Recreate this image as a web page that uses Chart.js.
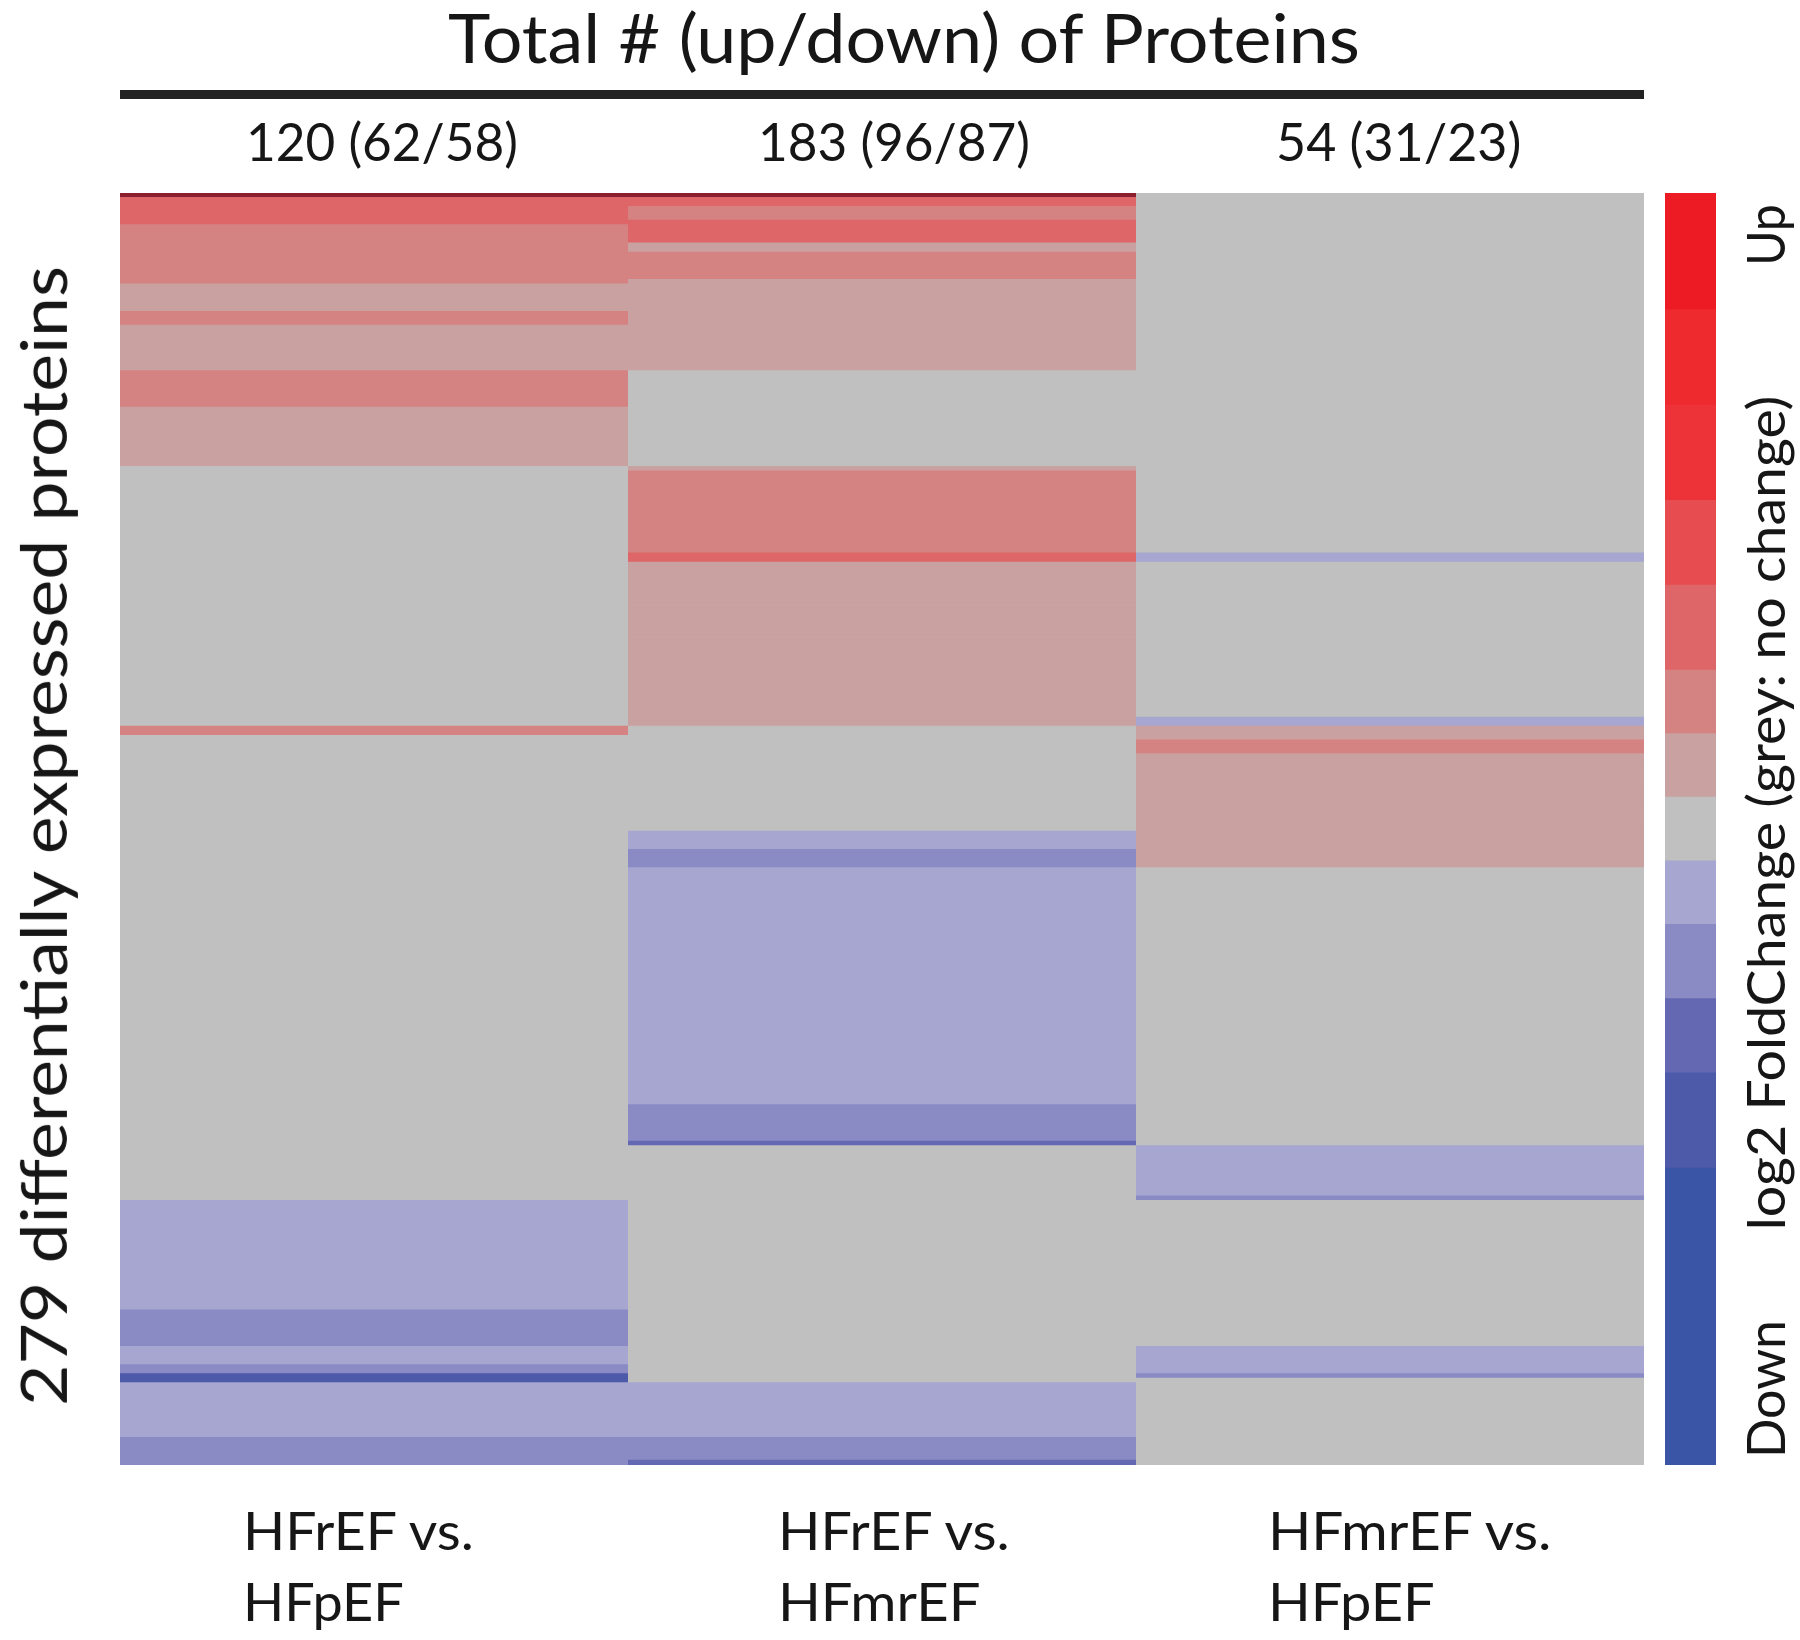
<!DOCTYPE html>
<html>
<head>
<meta charset="utf-8">
<title>Differentially expressed proteins heatmap</title>
<script src="https://cdn.jsdelivr.net/npm/chart.js@4.4.1/dist/chart.umd.min.js"></script>
<style>
  html, body { margin: 0; padding: 0; background: #ffffff; }
  #wrap { position: relative; width: 1800px; height: 1640px; overflow: hidden;
          font-family: Lato, "Open Sans", sans-serif; color: #161616; }
  canvas { position: absolute; display: block; }
  .t { position: absolute; white-space: nowrap; line-height: 1; }
  #rule { position: absolute; left: 120px; top: 90px; width: 1524px; height: 9px; background: #222222; }
</style>
</head>
<body>
<div id="wrap">
  <canvas id="heat" width="1800" height="1640" style="left:0;top:0;width:1800px;height:1640px;"></canvas>
  <canvas id="cbar" width="51" height="1272" style="left:1665px;top:193px;width:51px;height:1272px;"></canvas>
  <div id="rule"></div>
</div>
<script>
// ---------------- DATA ----------------
const comparisons = ["HFrEF vs.\nHFpEF", "HFrEF vs.\nHFmrEF", "HFmrEF vs.\nHFpEF"];
const upCounts   = [62, 96, 31];
const downCounts = [58, 87, 23];
const nProteins  = 279;

// log2 fold change per protein row, as runs of [number of rows, log2FC] (top row first)
const hfrefVsHfpef = [
  [1, 3.2], [3, 1.0], [3, 0.8], [13, 0.6], [3, 0.35], [3, 0.2], [3, 0.6], [10, 0.3],
  [8, 0.6], [13, 0.3], [57, 0], [2, 0.6], [102, 0], [24, -0.3], [8, -0.6], [4, -0.3],
  [2, -0.6], [2, -1.3], [12, -0.3], [6, -0.6]
];
const hfrefVsHfmref = [
  [1, 3.2], [2, 1.0], [3, 0.7], [5, 0.9], [2, 0.3], [6, 0.6], [20, 0.3], [21, 0],
  [1, 0.3], [18, 0.6], [2, 0.9], [36, 0.3], [23, 0], [4, -0.3], [4, -0.5], [52, -0.3],
  [8, -0.6], [1, -0.9], [52, 0], [12, -0.3], [5, -0.6], [1, -0.9]
];
const hfmrefVsHfpef = [
  [79, 0], [2, -0.3], [34, 0], [2, -0.3], [3, 0.3], [3, 0.7], [25, 0.3], [61, 0],
  [11, -0.3], [1, -0.6], [32, 0], [6, -0.3], [1, -0.5], [19, 0]
];

// colour key bins: [low, high] log2FC and colour (bottom to top)
const binLow    = [-3.0, -1.6, -1.15, -0.8, -0.45, -0.15, 0.15, 0.45, 0.75, 1.15, 1.55, 2.0, 2.45];
const binHigh   = [-1.6, -1.15, -0.8, -0.45, -0.15, 0.15, 0.45, 0.75, 1.15, 1.55, 2.0, 2.45, 3.0];
const binColors = ["#3a54a6", "#4c5aa9", "#6468b3", "#8a8ac4", "#a6a6d0", "#c0c0c0",
                   "#c9a1a0", "#d58382", "#de6668", "#e64c50", "#ee3338", "#ee2a2e", "#ed1c24"];
const overflowColor = "#8a1f2d";

// ---------------- HELPERS ----------------
function expandRuns(runs) {
  const out = [];
  runs.forEach(([n, v]) => { for (let i = 0; i < n; i++) out.push(v); });
  return out;
}
function colorFor(v) {
  if (v > binHigh[binHigh.length - 1]) return overflowColor;
  for (let i = 0; i < binLow.length; i++) {
    if (v >= binLow[i] && v < binHigh[i]) return binColors[i];
  }
  return v < 0 ? binColors[0] : binColors[binColors.length - 1];
}

const columns = [hfrefVsHfpef, hfrefVsHfmref, hfmrefVsHfpef].map(expandRuns);
const rowLabels = Array.from({ length: nProteins }, (_, i) => "P" + (i + 1));

// ---------------- HEATMAP ----------------
new Chart(document.getElementById("heat"), {
  type: "bar",
  data: {
    labels: rowLabels,
    datasets: columns.map((vals, c) => ({
      label: comparisons[c],
      data: vals.map(() => 1),
      backgroundColor: vals.map(colorFor),
      borderWidth: 0,
      barPercentage: 1.25,
      categoryPercentage: 1,
      clip: 0
    }))
  },
  options: {
    indexAxis: "y",
    responsive: false,
    animation: false,
    devicePixelRatio: 1,
    events: [],
    layout: { padding: { left: 120, right: 156, top: 193, bottom: 175 } },
    scales: {
      x: { stacked: true, min: 0, max: 3, display: false },
      y: { stacked: true, display: false }
    },
    plugins: { legend: { display: false }, tooltip: { enabled: false }, title: { display: false } }
  }
});

// ---------------- COLOUR KEY ----------------
new Chart(document.getElementById("cbar"), {
  type: "bar",
  data: {
    labels: ["key"],
    datasets: binColors.map((col, i) => ({
      data: [[binLow[i], binHigh[i]]],
      backgroundColor: col,
      borderWidth: 0,
      grouped: false,
      barPercentage: 1,
      categoryPercentage: 1,
      clip: 0
    }))
  },
  options: {
    responsive: false,
    animation: false,
    devicePixelRatio: 1,
    events: [],
    layout: { padding: 0 },
    scales: {
      x: { display: false },
      y: { display: false, min: -3, max: 3 }
    },
    plugins: { legend: { display: false }, tooltip: { enabled: false } }
  }
});

// ---------------- TEXT ----------------
const wrap = document.getElementById("wrap");
function makeText(str, fs) {
  const el = document.createElement("div");
  el.className = "t";
  el.style.fontSize = fs + "px";
  el.textContent = str;
  const mark = document.createElement("span");
  mark.style.cssText = "display:inline-block;width:0;height:0;vertical-align:baseline;";
  el.appendChild(mark);
  wrap.appendChild(el);
  return { el, w: el.offsetWidth, h: el.offsetHeight, base: mark.offsetTop };
}
// horizontal text: left x, baseline y, target width
function hText(str, fs, left, baseline, width) {
  const t = makeText(str, fs);
  const s = width / t.w;
  t.el.style.left = left + "px";
  t.el.style.top = (baseline - t.base) + "px";
  t.el.style.transformOrigin = "0 0";
  t.el.style.transform = "scaleX(" + s + ")";
}
// vertical text reading bottom-to-top: baseline x, centre y, target length
function vText(str, fs, baseX, cy, length) {
  const t = makeText(str, fs);
  const s = length / t.w;
  const cx = baseX - (t.base - t.h / 2);
  t.el.style.left = (cx - t.w / 2) + "px";
  t.el.style.top = (cy - t.h / 2) + "px";
  t.el.style.transformOrigin = "50% 50%";
  t.el.style.transform = "rotate(-90deg) scaleX(" + s + ")";
}

hText("Total # (up/down) of Proteins", 68, 448, 63, 912);

const headLeft  = [246, 758, 1276];
const headWidth = [272, 272, 245];
upCounts.forEach((u, i) => {
  hText((u + downCounts[i]) + " (" + u + "/" + downCounts[i] + ")", 53, headLeft[i], 161, headWidth[i]);
});

const footLeft = [243, 778, 1268];
const footWidths = [[231, 161], [232, 203], [284, 167]];
comparisons.forEach((c, i) => {
  const lines = c.split("\n");
  hText(lines[0], 52, footLeft[i], 1550, footWidths[i][0]);
  hText(lines[1], 52, footLeft[i], 1621, footWidths[i][1]);
});

vText(nProteins + " differentially expressed proteins", 64, 67, 836, 1140);
vText("Up", 52, 1785, 235, 62);
vText("log2 FoldChange (grey: no change)", 52, 1785, 813, 835);
vText("Down", 52, 1785, 1389, 138);
</script>
</body>
</html>
